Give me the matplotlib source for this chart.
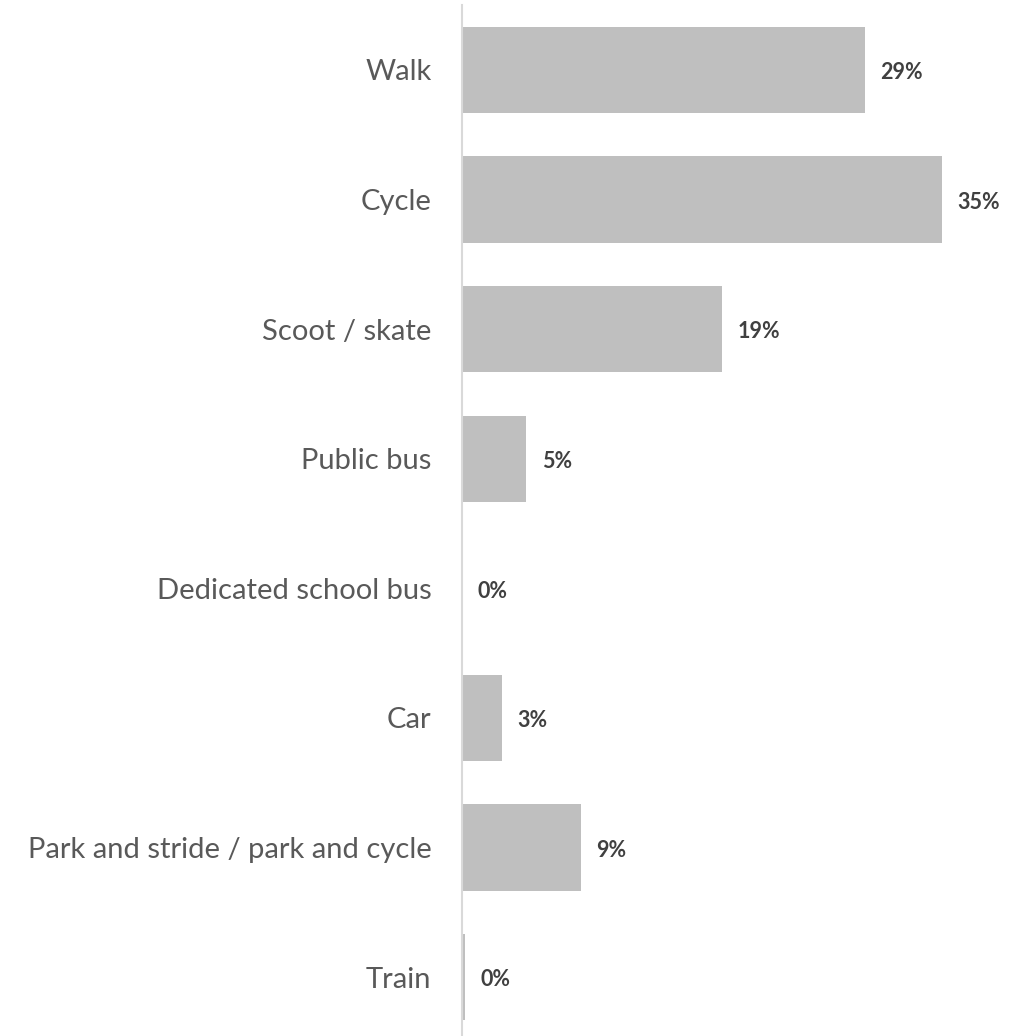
import matplotlib
matplotlib.use('Agg')
import matplotlib.pyplot as plt

# travel mode shares (percent)
modes = ['Walk', 'Cycle', 'Scoot / skate', 'Public bus', 'Dedicated school bus',
         'Car', 'Park and stride / park and cycle', 'Train']
shares = [29.4, 35.0, 19.0, 4.7, 0.0, 2.9, 8.7, 0.2]
value_labels = ['29%', '35%', '19%', '5%', '0%', '3%', '9%', '0%']

plt.rcParams['font.family'] = ['Lato', 'DejaVu Sans']

fig = plt.figure(figsize=(10.28, 10.36), dpi=100)
ax = fig.add_axes([462 / 1028, -6 / 1036, 1 - 462 / 1028, 1037 / 1036])

ypos = list(range(len(modes)))
ax.barh(ypos, shares, height=0.665, color='#BFBFBF')

for y, v, lab in zip(ypos, shares, value_labels):
    ax.annotate(lab, (v, y), xytext=(11, -2), textcoords='offset points',
                ha='left', va='center', fontsize=15.5, fontweight='bold',
                color='#404040')

ax.set_ylim(len(modes) - 0.5, -0.5)
ax.set_xlim(0, 41.3)
ax.set_yticks(ypos)
ax.set_yticklabels(modes, fontsize=21, color='#595959')
ax.tick_params(axis='y', length=0, pad=22)
ax.set_xticks([])

for s in ['top', 'right', 'bottom']:
    ax.spines[s].set_visible(False)
ax.spines['left'].set_color('#D9D9D9')
ax.spines['left'].set_linewidth(1.5)

fig.savefig('out.png', dpi=100)
